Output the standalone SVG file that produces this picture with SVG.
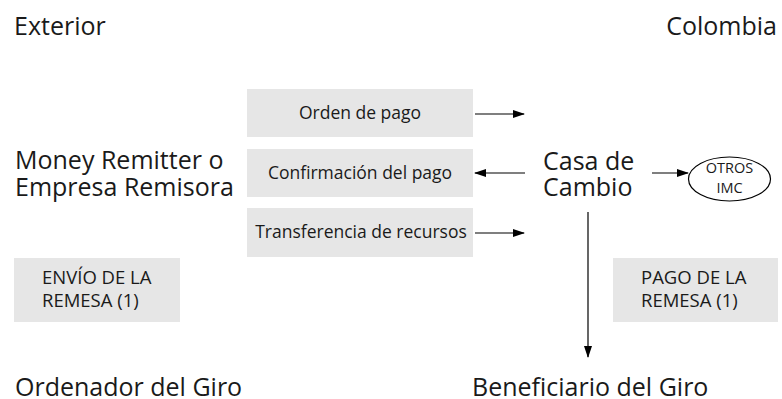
<svg xmlns="http://www.w3.org/2000/svg" width="782" height="399" viewBox="0 0 782 399">
<style>
text{font-family:"Open Sans","Noto Sans",sans-serif;fill:#1a1a1a}
.big{font-size:25px}
.mid{font-size:17.5px}
.cap{font-size:18.5px}
.sm{font-size:14.5px}
.box{fill:#e6e6e6}
.ln{stroke:#000;stroke-width:1.2;fill:none}
</style>
<defs>
<marker id="ah" markerWidth="12" markerHeight="8" refX="11" refY="4" orient="auto" markerUnits="userSpaceOnUse">
<path d="M0,0 L12,4 L0,8 Z" fill="#000"/>
</marker>
</defs>
<rect width="782" height="399" fill="#fff"/>
<g id="exterior"><text class="big" x="14" y="35">Exterior</text></g>
<g id="colombia"><text class="big" x="777" y="35" text-anchor="end">Colombia</text></g>
<g id="remitter"><text class="big" x="15" y="169">Money Remitter o</text><text class="big" x="15" y="196">Empresa Remisora</text></g>
<g id="orden"><rect class="box" x="247" y="89" width="226" height="48"/><text class="mid" x="360" y="119" text-anchor="middle">Orden de pago</text></g>
<g id="confirmacion"><rect class="box" x="247" y="149" width="226" height="48"/><text class="mid" x="360" y="179" text-anchor="middle">Confirmación del pago</text></g>
<g id="transferencia"><rect class="box" x="247" y="208" width="226" height="49"/><text class="mid" x="361" y="238" text-anchor="middle">Transferencia de recursos</text></g>
<g id="casa"><text class="big" x="543" y="170">Casa de</text><text class="big" x="543" y="196">Cambio</text></g>
<g id="otros"><ellipse cx="729.5" cy="179" rx="41" ry="22" fill="#fff" stroke="#000" stroke-width="1.2"/><text class="sm" x="729.5" y="173" text-anchor="middle">OTROS</text><text class="sm" x="729.5" y="193" text-anchor="middle">IMC</text></g>
<g id="envio"><rect class="box" x="14" y="258" width="166" height="64"/><text class="cap" x="42" y="284">ENVÍO DE LA</text><text class="cap" x="42" y="307">REMESA (1)</text></g>
<g id="pago"><rect class="box" x="613" y="258" width="165" height="64"/><text class="cap" x="641" y="284">PAGO DE LA</text><text class="cap" x="641" y="307">REMESA (1)</text></g>
<g id="ordenador"><text class="big" x="15" y="396">Ordenador del Giro</text></g>
<g id="beneficiario"><text class="big" x="472" y="396">Beneficiario del Giro</text></g>
<g id="connectors">
<line class="ln" x1="475" y1="114" x2="524" y2="114" marker-end="url(#ah)"/>
<line class="ln" x1="525" y1="173" x2="475" y2="173" marker-end="url(#ah)"/>
<line class="ln" x1="475" y1="233" x2="524" y2="233" marker-end="url(#ah)"/>
<line class="ln" x1="652" y1="173" x2="688" y2="173" marker-end="url(#ah)"/>
<line class="ln" x1="588" y1="212" x2="588" y2="357" marker-end="url(#ah)"/>
</g>
</svg>
